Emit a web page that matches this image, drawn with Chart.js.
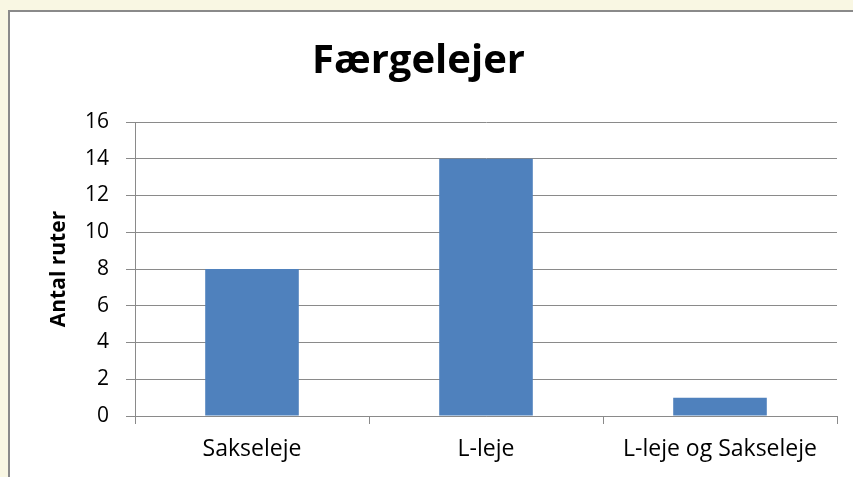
<!DOCTYPE html>
<html>
<head>
<meta charset="utf-8">
<script src="https://cdn.jsdelivr.net/npm/chart.js@4"></script>
<style>
  html, body { margin: 0; padding: 0; width: 853px; height: 477px; overflow: hidden; background: #F9F7E3; }
  #frame { position: absolute; left: 8px; top: 10px; width: 900px; height: 520px; background: #fff; border-left: 2px solid #8a8a8a; border-top: 2px solid #8a8a8a; }
  #wrap { position: absolute; left: 0; top: 0; width: 853px; height: 477px; }
</style>
</head>
<body>
<div id="frame"></div>
<div id="wrap"><canvas id="c" width="853" height="477"></canvas></div>
<script>
const categories = ["Sakseleje", "L-leje", "L-leje og Sakseleje"];
const routeCounts = [8, 14, 1];
const yTicks = [0, 2, 4, 6, 8, 10, 12, 14, 16];

const FONT = "'Open Sans', sans-serif";

new Chart(document.getElementById("c"), {
  type: "bar",
  data: {
    labels: categories,
    datasets: [{
      label: "Antal ruter",
      data: routeCounts,
      backgroundColor: "#4F81BD",
      borderWidth: 0,
      categoryPercentage: 1.0,
      barPercentage: 0.4
    }]
  },
  options: {
    responsive: false,
    animation: false,
    devicePixelRatio: 1,
    layout: { padding: { left: 0, right: 16, top: 0, bottom: 0 } },
    plugins: {
      legend: { display: false },
      tooltip: { enabled: false },
      title: {
        display: true,
        text: "Færgelejer",
        color: "#000",
        font: { family: FONT, size: 40, weight: "bold", lineHeight: 1.2 },
        padding: { top: 38, bottom: 36 }
      }
    },
    scales: {
      x: {
        grid: { drawOnChartArea: false, color: "#8a8a8a", tickLength: 8, offset: true },
        border: { color: "#8a8a8a", width: 1 },
        ticks: { color: "#000", font: { family: FONT, size: 23 }, padding: 11.5 },
        afterFit: (s) => { s.height = 61; }
      },
      y: {
        min: 0,
        max: 16,
        afterBuildTicks: (s) => { s.ticks = yTicks.map(v => ({ value: v })); },
        grid: { color: "#8a8a8a", tickLength: 9 },
        border: { color: "#8a8a8a", width: 1 },
        ticks: { color: "#000", font: { family: FONT, size: 21 }, padding: 17 },
        title: {
          display: true,
          text: "Antal ruter",
          color: "#000",
          font: { family: FONT, size: 21, weight: "bold", lineHeight: 1.2 },
          padding: { top: 46, bottom: 0 }
        },
        afterFit: (s) => { s.width = 135; }
      }
    }
  }
});
</script>
</body>
</html>
